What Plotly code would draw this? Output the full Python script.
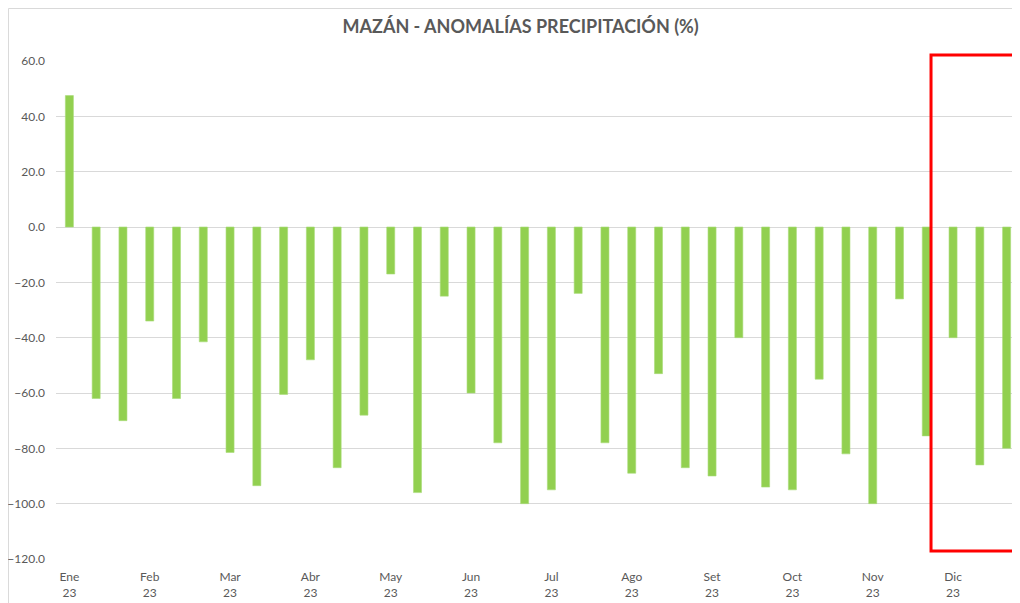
import plotly.graph_objects as go

months = ["Ene", "Feb", "Mar", "Abr", "May", "Jun", "Jul", "Ago", "Set", "Oct", "Nov", "Dic"]
year_label = "23"
dekads_per_month = 3

anomalies = [
    47.5, -62.0, -70.0,
    -34.0, -62.0, -41.5,
    -81.5, -93.5, -60.5,
    -48.0, -87.0, -68.0,
    -17.0, -96.0, -25.0,
    -60.0, -78.0, -100.0,
    -95.0, -24.0, -78.0,
    -89.0, -53.0, -87.0,
    -90.0, -40.0, -94.0,
    -95.0, -55.0, -82.0,
    -100.0, -26.0, -75.5,
    -40.0, -86.0, -80.0,
]

y_ticks = [60, 40, 20, 0, -20, -40, -60, -80, -100, -120]

x_idx = list(range(len(anomalies)))
tick_pos = [i * dekads_per_month for i in range(len(months))]
tick_text = [f"{m}<br>{year_label}" for m in months]

fig = go.Figure()
fig.add_trace(go.Bar(
    x=x_idx,
    y=anomalies,
    marker=dict(color="#92D050", line=dict(color="#A9DC78", width=0.6)),
    hoverinfo="y",
))

font_family = "Lato, 'Open Sans', sans-serif"
tick_color = "#595959"
grid_color = "#D9D9D9"

# page body has an 8px default margin; figure sized to fit the window
fig.update_layout(
    width=1012,
    height=595,
    margin=dict(l=48, r=0, t=53, b=44, autoexpand=False),
    paper_bgcolor="white",
    plot_bgcolor="white",
    bargap=0.7,
    showlegend=False,
    title=dict(
        text="<b>MAZÁN - ANOMALÍAS PRECIPITACIÓN (%)</b>",
        x=0.482, xref="paper", xanchor="center",
        y=0.968, yanchor="middle",
        font=dict(family=font_family, size=18, color="#595959"),
    ),
    xaxis=dict(
        range=[-0.5, len(anomalies) - 0.5],
        tickmode="array",
        tickvals=tick_pos,
        ticktext=tick_text,
        showgrid=False,
        zeroline=False,
        showline=False,
        ticks="",
        automargin=False,
        ticklabelstandoff=9,
        tickfont=dict(family=font_family, size=12, color=tick_color),
    ),
    yaxis=dict(
        range=[-120, 60],
        tickmode="array",
        tickvals=y_ticks,
        tickformat=".1f",
        showgrid=True,
        gridcolor=grid_color,
        gridwidth=1,
        zeroline=False,
        showline=False,
        ticks="",
        automargin=False,
        ticklabelstandoff=10,
        tickfont=dict(family=font_family, size=12, color=tick_color),
    ),
    shapes=[
        # chart area border (left and top edges)
        dict(type="rect", xref="paper", yref="paper",
             x0=-0.0493, x1=1.2, y0=-0.3, y1=1.1054,
             line=dict(color="#D9D9D9", width=1), layer="below"),
        # highlight rectangle
        dict(type="rect", xref="paper", yref="paper",
             x0=0.9077, x1=1.2, y0=0.016, y1=1.012,
             line=dict(color="#FF0000", width=3), fillcolor="rgba(0,0,0,0)"),
    ],
)

fig.write_html("out.html")
